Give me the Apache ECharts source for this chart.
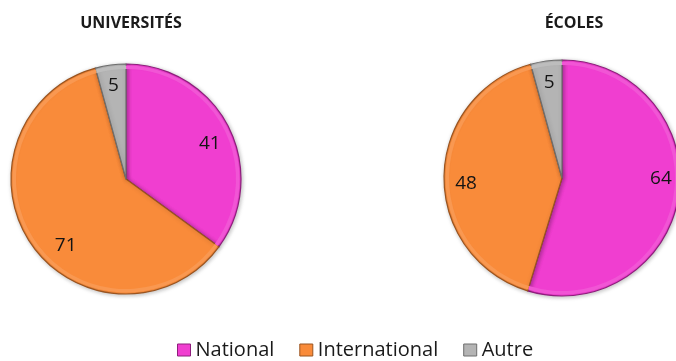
<!DOCTYPE html>
<html>
<head>
<meta charset="utf-8">
<script src="https://cdn.jsdelivr.net/npm/echarts@6/dist/echarts.min.js"></script>
<style>
  html, body { margin: 0; padding: 0; background: #fff; }
  #chart { width: 676px; height: 361px; }
</style>
</head>
<body>
<div id="chart"></div>
<script>
// Origine des étudiants par type d'établissement
const categories = ['National', 'International', 'Autre'];
const universites = [41, 71, 5];
const ecoles = [64, 48, 5];
const titles = ['UNIVERSITÉS', 'ÉCOLES'];

const colors = ['#F03ED0', '#F98B3A', '#B4B4B4'];
const borders = ['#8E1E7C', '#9A5420', '#6E6E6E'];
const FONT = '"Open Sans", "Noto Sans", sans-serif';

// small nudges for the value labels, per pie and per slice
const labelNudge = [
  [[0, 7], [17, 13], [0, 0]],
  [[4, -14], [0, 7], [0, 0]]
];

function slices(values, kind) {
  return categories.map((name, i) => {
    let itemStyle;
    if (kind === 'fill') {
      itemStyle = { color: colors[i], borderColor: borders[i], borderWidth: 1.2 };
    } else if (kind === 'rim') {
      itemStyle = { color: echarts.color.lift(colors[i], 0.12), borderWidth: 0 };
    } else {
      itemStyle = { color: 'rgba(0,0,0,0)', borderWidth: 0 };
    }
    return { name, value: values[i], itemStyle };
  });
}

function pieSeries(values, center, r, pieIndex) {
  const common = {
    type: 'pie', center, startAngle: 90, clockwise: true,
    avoidLabelOverlap: false, labelLine: { show: false },
    emphasis: { disabled: true }
  };
  return [
    {
      ...common,
      radius: [0, r],
      label: { show: false },
      itemStyle: { shadowBlur: 4, shadowColor: 'rgba(0,0,0,0.25)', shadowOffsetX: 1, shadowOffsetY: 1 },
      data: slices(values, 'fill')
    },
    {
      // light bevel just inside the rim
      ...common,
      radius: [r - 5, r - 1.5],
      silent: true,
      label: { show: false },
      data: slices(values, 'rim')
    },
    {
      // ring used only to place the value labels near the rim
      ...common,
      radius: [Math.round(r * 0.58), r],
      silent: true,
      label: {
        show: true, position: 'inside', formatter: '{c}',
        color: '#141414', fontSize: 19, fontFamily: FONT
      },
      labelLayout: (p) => ({ dx: labelNudge[pieIndex][p.dataIndex][0], dy: labelNudge[pieIndex][p.dataIndex][1] }),
      data: slices(values, 'label')
    }
  ];
}

const chart = echarts.init(document.getElementById('chart'), null, { renderer: 'canvas' });
chart.setOption({
  animation: false,
  title: [
    { text: titles[0], left: 126, top: 10, textAlign: 'center',
      textStyle: { fontSize: 16, fontWeight: 'bold', color: '#1a1a1a', fontFamily: FONT } },
    { text: titles[1], left: 569, top: 10, textAlign: 'center',
      textStyle: { fontSize: 16, fontWeight: 'bold', color: '#1a1a1a', fontFamily: FONT } }
  ],
  legend: {
    top: 340,
    left: 177,
    padding: 0,
    itemWidth: 13,
    itemHeight: 12,
    itemGap: 25,
    icon: 'rect',
    textStyle: { fontSize: 20, color: '#1a1a1a', fontFamily: FONT },
    data: categories.map((name, i) => ({
      name,
      itemStyle: { color: colors[i], borderColor: borders[i], borderWidth: 1 }
    }))
  },
  series: [
    ...pieSeries(universites, [126, 179], 115, 0),
    ...pieSeries(ecoles, [562, 178], 118, 1)
  ]
});
</script>
</body>
</html>
